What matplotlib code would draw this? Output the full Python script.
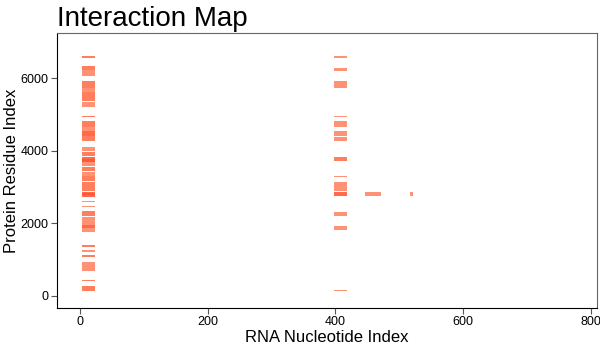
import matplotlib
matplotlib.use("Agg")
import matplotlib.pyplot as plt

plt.rcParams['font.family'] = ['Liberation Sans', 'DejaVu Sans']

# interaction tiles: nucleotide range, residue range, overlap level
x_start = [3] * 37 + [398] * 14 + [447, 517]
x_end = [23] * 37 + [419] * 14 + [472, 521]
y_start = [6566, 6210, 6069, 5739, 5620, 5372, 5216, 4931, 4665, 4530, 4400, 4279,
           3995, 3865, 3719, 3582, 3444, 3306, 3168, 3010, 2893, 2736, 2590, 2452,
           2212, 1950, 1860, 1771, 1358, 1220, 1083, 820, 697, 413, 146, 2780, 3700,
           6566, 6208, 5739, 4931, 4665, 4408, 4279, 3719, 3279, 2901, 2755, 2212, 1818, 138,
           2764, 2764]
y_end = [6612, 6337, 6210, 5923, 5739, 5620, 5345, 4959, 4821, 4665, 4530, 4400,
         4105, 3967, 3838, 3692, 3554, 3416, 3306, 3141, 3010, 2865, 2617, 2480,
         2342, 2177, 1950, 1860, 1405, 1267, 1130, 937, 820, 441, 276, 2830, 3760,
         6612, 6273, 5923, 4959, 4821, 4545, 4381, 3829, 3306, 3141, 2865, 2314, 1928, 165,
         2865, 2865]
level = [2, 2, 1, 2, 1, 2, 1, 2, 2, 1, 3, 2,
         1, 2, 3, 1, 2, 1, 2, 2, 2, 3, 1, 1,
         2, 1, 3, 1, 2, 1, 2, 1, 1, 2, 2, 4, 4,
         1, 1, 1, 1, 1, 1, 1, 2, 1, 1, 3, 1, 1, 1,
         1, 1]

shades = {1: '#ff9274', 2: '#ff7e5e', 3: '#ff6a4a', 4: '#ff5838'}

fig = plt.figure(figsize=(6, 3.5), dpi=100)
ax = fig.add_axes([0.095, 0.12, 0.9, 0.786])

for x0, x1, y0, y1, lv in zip(x_start, x_end, y_start, y_end, level):
    ax.bar(x0, y1 - y0, width=x1 - x0, bottom=y0, align='edge',
           color=shades[lv], linewidth=0)

ax.set_xlim(-36, 810)
ax.set_ylim(-331, 7245)
ax.set_xticks([0, 200, 400, 600, 800])
ax.set_yticks([0, 2000, 4000, 6000])
ax.tick_params(direction='out', length=4, color='#555555', labelsize=9,
               labelcolor='black', pad=2)

for side in ['left', 'bottom']:
    ax.spines[side].set_color('black')
for side in ['top', 'right']:
    ax.spines[side].set_color('#666666')
for s in ax.spines.values():
    s.set_linewidth(0.8)

ax.set_xlabel('RNA Nucleotide Index', fontsize=12, labelpad=1)
ax.set_ylabel('Protein Residue Index', fontsize=12)
ax.yaxis.set_label_coords(-0.07, 0.5)
ax.set_title('Interaction Map', fontsize=20, loc='left', pad=5)

fig.savefig('out.png', dpi=100)
